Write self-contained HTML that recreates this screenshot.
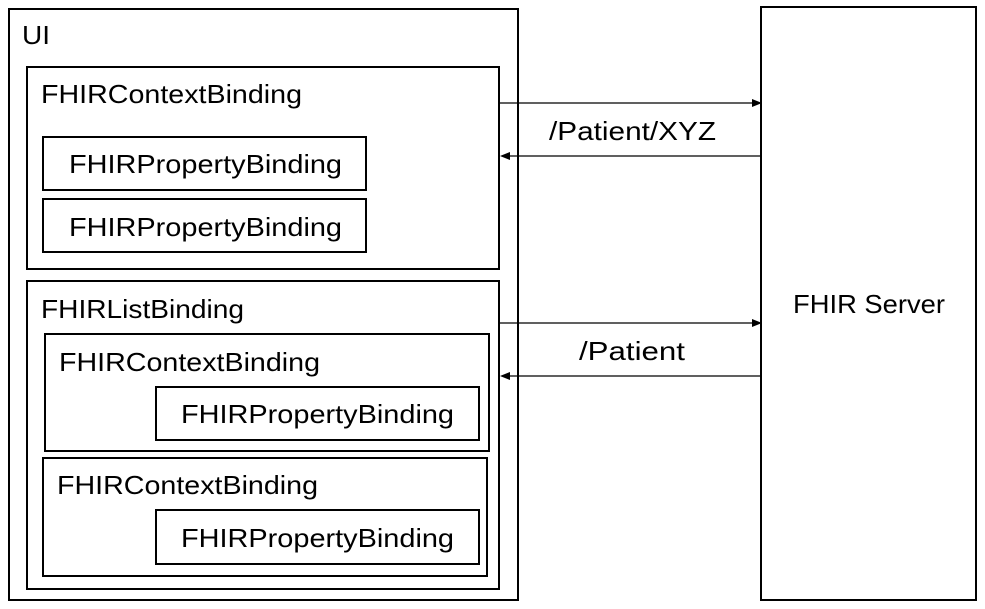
<!DOCTYPE html>
<html><head><style>body{margin:0;background:#fff}svg{display:block}text{font-family:"Liberation Sans",sans-serif;font-size:26px;fill:#000}</style></head><body>
<svg width="985" height="609" viewBox="0 0 985 609" xmlns="http://www.w3.org/2000/svg">
<g fill="none" stroke="#000" stroke-width="2">
<rect x="9" y="9" width="509" height="591"/>
<rect x="27" y="67" width="472" height="202"/>
<rect x="43" y="137" width="323" height="53"/>
<rect x="43" y="199" width="323" height="53"/>
<rect x="27" y="281" width="472" height="308"/>
<rect x="45" y="334" width="444" height="117"/>
<rect x="156" y="387" width="323" height="53"/>
<rect x="43" y="458" width="444" height="118"/>
<rect x="156" y="510" width="323" height="54"/>
<rect x="761" y="7" width="215" height="593"/>
</g>
<g stroke="#000" stroke-width="1.3">
<line x1="500" y1="103" x2="754" y2="103"/>
<line x1="507" y1="156" x2="761" y2="156"/>
<line x1="500" y1="323" x2="754" y2="323"/>
<line x1="507" y1="376" x2="761" y2="376"/>
</g>
<g fill="#000">
<polygon points="762,103 752,99 752,107"/>
<polygon points="500,156 510,152 510,160"/>
<polygon points="762,323 752,319 752,327"/>
<polygon points="500,376 510,372 510,380"/>
</g>
<g lengthAdjust="spacingAndGlyphs">
<text x="22" y="44" textLength="28" lengthAdjust="spacingAndGlyphs">UI</text>
<text x="41" y="103" textLength="261" lengthAdjust="spacingAndGlyphs">FHIRContextBinding</text>
<text x="69" y="173" textLength="273" lengthAdjust="spacingAndGlyphs">FHIRPropertyBinding</text>
<text x="69" y="236" textLength="273" lengthAdjust="spacingAndGlyphs">FHIRPropertyBinding</text>
<text x="41" y="318" textLength="203" lengthAdjust="spacingAndGlyphs">FHIRListBinding</text>
<text x="59" y="371" textLength="261" lengthAdjust="spacingAndGlyphs">FHIRContextBinding</text>
<text x="181" y="423" textLength="273" lengthAdjust="spacingAndGlyphs">FHIRPropertyBinding</text>
<text x="57" y="494" textLength="261" lengthAdjust="spacingAndGlyphs">FHIRContextBinding</text>
<text x="181" y="547" textLength="273" lengthAdjust="spacingAndGlyphs">FHIRPropertyBinding</text>
<text x="549" y="140" textLength="167" lengthAdjust="spacingAndGlyphs">/Patient/XYZ</text>
<text x="579" y="360" textLength="106" lengthAdjust="spacingAndGlyphs">/Patient</text>
<text x="793" y="313" textLength="152" lengthAdjust="spacingAndGlyphs">FHIR Server</text>
</g>
</svg>
</body></html>
